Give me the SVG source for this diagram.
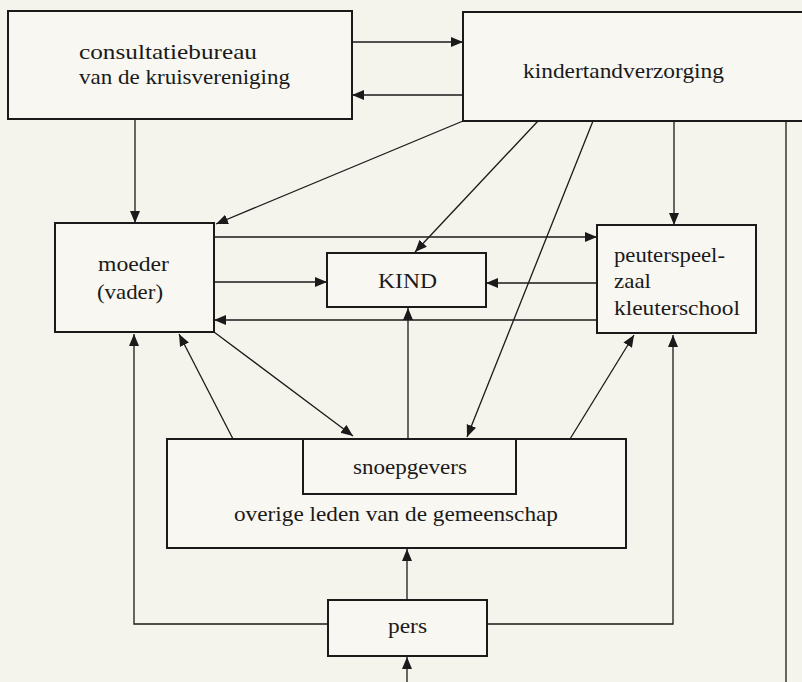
<svg xmlns="http://www.w3.org/2000/svg" width="802" height="682" viewBox="0 0 802 682">
<style>
.box{fill:#f8f7f1;stroke:#1a1a1a;stroke-width:2}
.t{font-family:"Liberation Serif","Times New Roman",serif;font-size:22px;fill:#1a1a1a}
.c{fill:none;stroke:#1a1a1a;stroke-width:1.3}
</style>
<defs>
<marker id="ah" markerUnits="userSpaceOnUse" markerWidth="14" markerHeight="12" refX="12" refY="5" orient="auto">
<path d="M0,0 L12,5 L0,10 z" fill="#1a1a1a"/>
</marker>
</defs>
<rect width="802" height="682" fill="#f4f3ec"/>
<g id="connectors">
<line class="c" x1="352" y1="42" x2="463" y2="42" marker-end="url(#ah)"/>
<line class="c" x1="463" y1="95" x2="352" y2="95" marker-end="url(#ah)"/>
<line class="c" x1="135" y1="119" x2="135" y2="223" marker-end="url(#ah)"/>
<line class="c" x1="463" y1="121" x2="216" y2="224" marker-end="url(#ah)"/>
<line class="c" x1="538" y1="121" x2="415" y2="252" marker-end="url(#ah)"/>
<line class="c" x1="593" y1="121" x2="467" y2="437" marker-end="url(#ah)"/>
<line class="c" x1="674" y1="121" x2="674" y2="225" marker-end="url(#ah)"/>
<line class="c" x1="786" y1="121" x2="786" y2="682"/>
<line class="c" x1="214" y1="237" x2="597" y2="237" marker-end="url(#ah)"/>
<line class="c" x1="214" y1="282" x2="327" y2="282" marker-end="url(#ah)"/>
<line class="c" x1="597" y1="283" x2="486" y2="283" marker-end="url(#ah)"/>
<line class="c" x1="597" y1="320" x2="214" y2="320" marker-end="url(#ah)"/>
<line class="c" x1="408" y1="439" x2="408" y2="308" marker-end="url(#ah)"/>
<line class="c" x1="233" y1="439" x2="179" y2="334" marker-end="url(#ah)"/>
<line class="c" x1="214" y1="332" x2="353" y2="436" marker-end="url(#ah)"/>
<line class="c" x1="570" y1="439" x2="634" y2="335" marker-end="url(#ah)"/>
<polyline class="c" points="328,624 134,624 134,334" marker-end="url(#ah)"/>
<polyline class="c" points="487,624 673,624 673,335" marker-end="url(#ah)"/>
<line class="c" x1="407" y1="600" x2="407" y2="549" marker-end="url(#ah)"/>
<line class="c" x1="407" y1="682" x2="407" y2="657" marker-end="url(#ah)"/>
</g>
<g id="consultatiebureau">
<rect class="box" x="8" y="11" width="344" height="108"/>
<text class="t" x="79" y="59" textLength="178" lengthAdjust="spacingAndGlyphs">consultatiebureau</text>
<text class="t" x="79" y="84" textLength="211" lengthAdjust="spacingAndGlyphs">van de kruisvereniging</text>
</g>
<g id="kindertandverzorging">
<rect class="box" x="463" y="12" width="350" height="109"/>
<text class="t" x="523" y="78" textLength="201" lengthAdjust="spacingAndGlyphs">kindertandverzorging</text>
</g>
<g id="moeder">
<rect class="box" x="55" y="223" width="159" height="109"/>
<text class="t" x="98" y="271" textLength="71" lengthAdjust="spacingAndGlyphs">moeder</text>
<text class="t" x="97" y="299" textLength="66" lengthAdjust="spacingAndGlyphs">(vader)</text>
</g>
<g id="kind">
<rect class="box" x="327" y="253" width="159" height="54"/>
<text class="t" x="378" y="288" textLength="59" lengthAdjust="spacingAndGlyphs">KIND</text>
</g>
<g id="peuterspeelzaal">
<rect class="box" x="597" y="225" width="159" height="108"/>
<text class="t" x="614" y="262" textLength="111" lengthAdjust="spacingAndGlyphs">peuterspeel-</text>
<text class="t" x="614" y="288" textLength="37" lengthAdjust="spacingAndGlyphs">zaal</text>
<text class="t" x="614" y="315" textLength="126" lengthAdjust="spacingAndGlyphs">kleuterschool</text>
</g>
<g id="overige">
<rect class="box" x="167" y="439" width="459" height="109"/>
<text class="t" x="234" y="521" textLength="324" lengthAdjust="spacingAndGlyphs">overige leden van de gemeenschap</text>
</g>
<g id="snoepgevers">
<rect class="box" x="303" y="439" width="213" height="55"/>
<text class="t" x="353" y="474" textLength="114" lengthAdjust="spacingAndGlyphs">snoepgevers</text>
</g>
<g id="pers">
<rect class="box" x="328" y="600" width="159" height="56"/>
<text class="t" x="388" y="633" textLength="39" lengthAdjust="spacingAndGlyphs">pers</text>
</g>
</svg>
